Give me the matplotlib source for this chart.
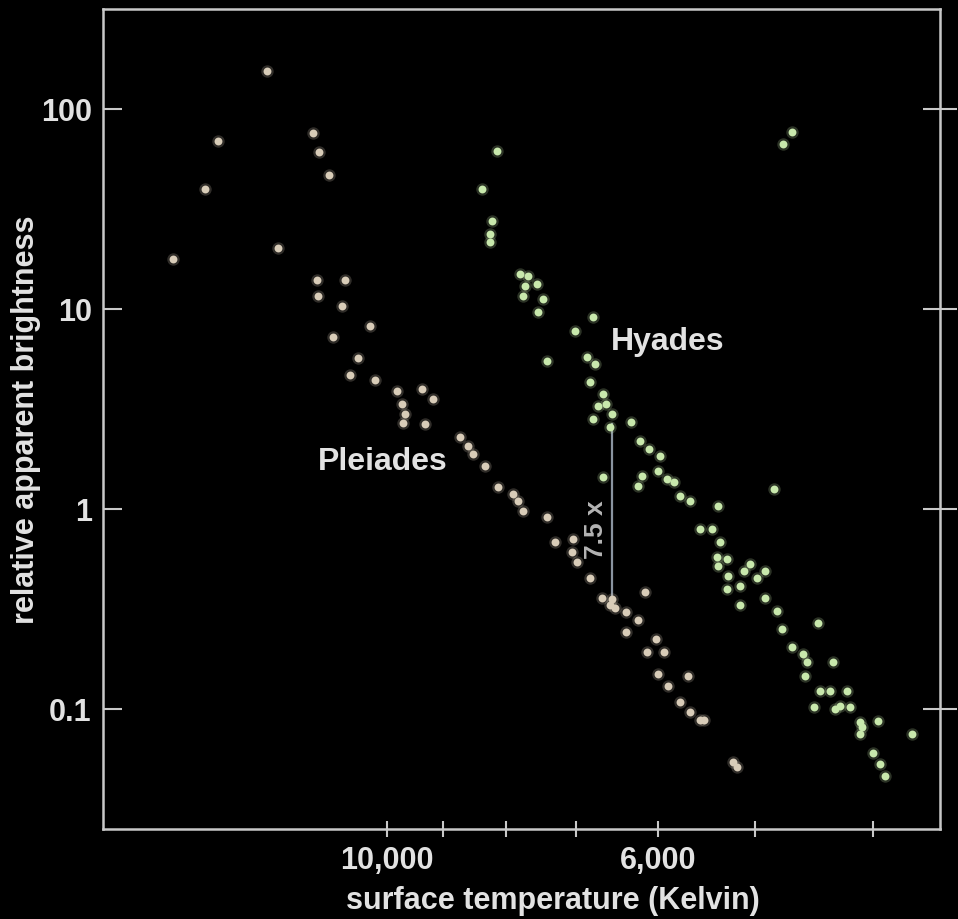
import matplotlib
matplotlib.use("Agg")
import matplotlib.pyplot as plt
from matplotlib.ticker import NullLocator

# Pleiades: surface temperature (K) and relative apparent brightness
pleiades_temp = [12540, 13750, 14090, 11500, 11370, 11150, 14970, 12280, 11410, 10820,
                 11390, 10890, 10320, 11070, 10560, 10720, 10230, 9810, 9360, 9170,
                 9720, 9670, 9700, 9310, 8720, 8580, 8500, 8310, 8110, 7890,
                 7820, 7740, 7400, 7290, 7045, 7058, 6990, 6820, 6670, 6550,
                 6570, 6510, 6150, 6370, 6235, 6370, 6020, 6130, 5930, 6000,
                 5675, 5890, 5760, 5650, 5550, 5500, 5210, 5170]
pleiades_bright = [155, 69, 40, 76, 61, 47, 17.8, 20.2, 14.0, 14.0,
                   11.6, 10.3, 8.2, 7.2, 5.7, 4.7, 4.4, 3.9, 4.0, 3.55,
                   3.35, 3.0, 2.7, 2.66, 2.3, 2.07, 1.88, 1.64, 1.29, 1.19,
                   1.10, 0.98, 0.91, 0.68, 0.71, 0.61, 0.54, 0.45, 0.36, 0.355,
                   0.33, 0.32, 0.385, 0.305, 0.28, 0.243, 0.224, 0.193, 0.193, 0.150,
                   0.146, 0.130, 0.108, 0.097, 0.088, 0.088, 0.054, 0.051]

# Hyades
hyades_temp = [8130, 8360, 8200, 8240, 8240, 7790, 7670, 7710, 7540, 7740,
               7450, 7525, 6785, 7020, 7400, 6860, 6760, 6820, 6660, 6720,
               6785, 6550, 6570, 6310, 6210, 6100, 5980, 6000, 5900, 5820,
               6190, 6235, 5760, 5650, 5360, 4820, 5550, 5420, 5340, 5370,
               5270, 5360, 5260, 5050, 5100, 4980, 4910, 5270, 5140, 5140,
               4910, 4800, 4750, 4440, 4665, 4570, 4530, 4550, 4320, 4420,
               4340, 4200, 4470, 4300, 4260, 4180, 4100, 4090, 4100, 3965,
               3720, 4000, 3950, 3910, 4665, 4745, 6660, 6620]
hyades_bright = [61.7, 39.8, 27.5, 23.7, 21.6, 15.0, 14.6, 13.0, 13.3, 11.6,
                 11.2, 9.7, 9.1, 7.8, 5.5, 5.75, 5.3, 4.3, 3.76, 3.27,
                 2.82, 3.0, 2.57, 2.72, 2.19, 2.0, 1.84, 1.55, 1.41, 1.36,
                 1.46, 1.30, 1.16, 1.10, 1.035, 1.26, 0.79, 0.79, 0.68, 0.575,
                 0.56, 0.52, 0.46, 0.53, 0.49, 0.45, 0.49, 0.40, 0.41, 0.33,
                 0.36, 0.31, 0.25, 0.27, 0.204, 0.188, 0.172, 0.146, 0.172, 0.123,
                 0.123, 0.123, 0.102, 0.100, 0.104, 0.102, 0.086, 0.081, 0.075, 0.087,
                 0.075, 0.060, 0.053, 0.046, 76.7, 66.8, 1.45, 3.35]

# brightness gap between the two main sequences
gap_temp = 6550
gap_top, gap_bottom = 2.66, 0.355

x_major = [10000, 6000]
x_major_labels = ["10,000", "6,000"]
x_minor = [9000, 8000, 7000, 5000, 4000]
y_ticks = [0.1, 1, 10, 100]
y_labels = ["0.1", "1", "10", "100"]

fg = "#c8c8c8"
txt = "#e2e2e2"
plt.rcParams['font.family'] = ['Liberation Sans', 'DejaVu Sans']

fig = plt.figure(figsize=(9.58, 9.2), dpi=100, facecolor="black")
ax = fig.add_axes([0.1075, 0.0978, 0.8737, 0.8913], facecolor="black")

# soft glow + core for the dots
ax.scatter(pleiades_temp, pleiades_bright, s=80, color="#d8ccb8", alpha=0.22, linewidths=0, zorder=2)
ax.scatter(pleiades_temp, pleiades_bright, s=32, color="#d8ccb8", linewidths=0, zorder=3)
ax.scatter(hyades_temp, hyades_bright, s=80, color="#c8e8ac", alpha=0.22, linewidths=0, zorder=2)
ax.scatter(hyades_temp, hyades_bright, s=32, color="#c8e8ac", linewidths=0, zorder=3)

ax.set_xscale("log")
ax.set_yscale("log")
ax.set_xlim(17080, 3528)
ax.set_ylim(0.0251, 316)

ax.plot([gap_temp, gap_temp], [gap_top, gap_bottom], color="#8a94a0", lw=1.6, zorder=1)
ax.text(6740, 0.80, "7.5 x", rotation=90, color="#b4b4b4", fontsize=19, fontweight="bold",
        ha="center", va="center")
ax.text(6560, 6.9, "Hyades", color=txt, fontsize=23, fontweight="bold", ha="left", va="center")
ax.text(10090, 1.74, "Pleiades", color=txt, fontsize=23, fontweight="bold", ha="center", va="center")

for sp in ax.spines.values():
    sp.set_color(fg)
    sp.set_linewidth(1.8)

ax.set_xticks(x_major, x_major_labels)
ax.set_xticks(x_minor, minor=True)
ax.xaxis.set_minor_formatter(plt.NullFormatter())
ax.tick_params(axis="x", which="both", direction="inout", length=11, width=1.5,
               color=fg, labelcolor=txt, labelsize=22, pad=6)
ax.set_yticks(y_ticks, y_labels)
ax.yaxis.set_minor_locator(NullLocator())
ax.tick_params(axis="y", which="major", direction="in", length=14, width=1.5,
               color=fg, labelcolor=txt, labelsize=22, pad=8)
for lab in ax.get_xticklabels() + ax.get_yticklabels():
    lab.set_fontweight("bold")

# right-hand ticks crossing the frame
ax2 = ax.twinx()
ax2.set_yscale("log")
ax2.set_ylim(ax.get_ylim())
ax2.set_yticks(y_ticks, [])
ax2.yaxis.set_minor_locator(NullLocator())
ax2.tick_params(axis="y", direction="inout", length=24, width=1.5, color=fg)
for sp in ax2.spines.values():
    sp.set_visible(False)

ax.set_xlabel("surface temperature (Kelvin)", color=txt, fontsize=22, fontweight="bold", va="center")
ax.xaxis.set_label_coords(0.538, -0.087)
ax.set_ylabel("relative apparent brightness", color=txt, fontsize=22, fontweight="bold")
ax.yaxis.set_label_coords(-0.074, 0.5)

fig.savefig("out.png", dpi=100, facecolor="black")
